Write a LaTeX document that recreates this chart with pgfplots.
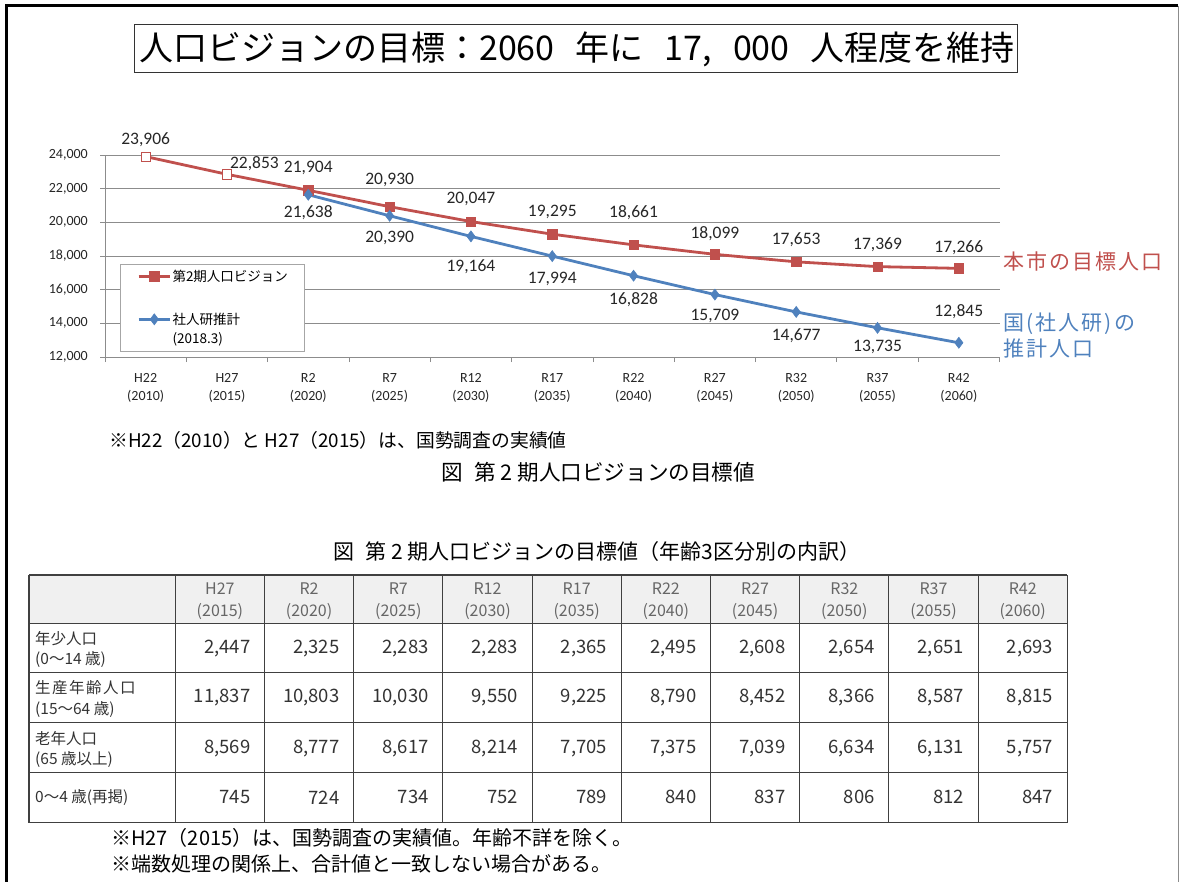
\documentclass[border=0pt]{standalone}
\usepackage{fontspec}
\usepackage{pgfplots}
\usepackage{pgfplotstable}
\pgfplotsset{compat=1.18}
\setmainfont{Carlito}
\newfontfamily\jp{Noto Sans CJK JP}
\newfontfamily\jpls[LetterSpace=10]{Noto Sans CJK JP}
\definecolor{cred}{HTML}{C0504D}
\definecolor{cblue}{HTML}{4F81BD}
\definecolor{gridc}{HTML}{8C8C8C}
\pgfplotstableread{
x y up dx
0 23906 16.6 0
1 22853 11 27.5
2 21904 22 0
3 20930 26.7 0
4 20047 22.2 0
5 19295 21.9 0
6 18661 32.6 0
7 18099 21 0
8 17653 21.8 0
9 17369 21.6 0
10 17266 21.1 0
}\redtab
\pgfplotstableread{
x y up dx
2 21638 -17.5 0
3 20390 -22.5 0
4 19164 -30.3 0
5 17994 -22.9 0
6 16828 -23.6 0
7 15709 -21.1 0
8 14677 -23.8 0
9 13735 -18.9 0
10 12845 31.1 0
}\bluetab
\pgfplotstableread{
x y
0 23906
1 22853
}\opentab
\begin{document}
\begin{tikzpicture}
\useasboundingbox (0,0) rectangle (1181pt,-882pt);
\begin{axis}[
  at={(105pt,-357pt)}, anchor=south west,
  scale only axis, width=894.5pt, height=202pt,
  xmin=-0.5, xmax=10.5, ymin=12000, ymax=24000,
  clip=false,
  axis lines*=left,
  axis line style={gridc, line width=0.8pt},
  ytick={12000,14000,...,24000},
  ymajorgrids, major grid style={gridc, line width=0.8pt},
  scaled y ticks=false,
  /pgf/number format/assume math mode=true,
  /pgf/number format/1000 sep={,},
  tick align=outside, major tick length=5pt,
  tick style={gridc, line width=0.8pt},
  xtick={-0.5,0.5,...,10.5}, xticklabels={},
  extra x ticks={0,1,...,10},
  extra x tick labels={H22\\(2010),H27\\(2015),R2\\(2020),R7\\(2025),R12\\(2030),R17\\(2035),R22\\(2040),R27\\(2045),R32\\(2050),R37\\(2055),R42\\(2060)},
  extra x tick style={major tick length=0pt},
  x tick label style={align=center, font=\fontsize{14}{18.3}\selectfont, text=black!85, inner sep=0pt, yshift=-16pt},
  y tick label style={font=\fontsize{14}{16}\selectfont, text=black!85, inner sep=0pt, xshift=-12pt},
  legend cell align=left,
  legend style={at={(rel axis cs:0.01677,0.4589)}, anchor=north west,
    draw=black!35, line width=0.8pt, fill=white,
    inner xsep=16.7pt, inner ysep=7pt, row sep=14pt, column sep=1pt,
    cells={anchor=base west}, nodes={inner sep=0pt},
    font=\jp\fontsize{13.5}{16}\selectfont},
  legend image code/.code={\draw[mark repeat=2,mark phase=2,#1] plot coordinates {(0pt,0pt) (15.8pt,0pt) (31.6pt,0pt)};},
]
\addplot[cred, line width=2.8pt, mark=square*, mark size=4.6pt,
  mark options={solid, line width=0.6pt, fill=cred, draw=cred},
  legend image code/.code={\draw[cred, line width=2.8pt, mark=square*, mark size=4.6pt, mark options={solid, line width=0.6pt, fill=cred, draw=cred}, mark repeat=2,mark phase=2] plot coordinates {(0pt,0pt) (15.8pt,0pt) (31.6pt,0pt)}; \path[draw=none,fill=none] (0pt,0pt) -- (0pt,-23.5pt);},
  nodes near coords,
  visualization depends on={\thisrow{up} \as \up},
  visualization depends on={\thisrow{dx} \as \dx},
  every node near coord/.append style={anchor=center, yshift=\up*1pt, xshift=\dx*1pt,
    font=\fontsize{17.5}{20}\selectfont, text=black!85, inner sep=0pt}]
  table[x=x,y=y] {\redtab};
\addlegendentry{\raisebox{-5pt}[0pt][0pt]{第2期人口ビジョン}}
\addplot[cblue, line width=2.8pt, mark=diamond*, mark size=5.5pt,
  mark options={solid, line width=0.6pt, fill=cblue, draw=cblue},
  nodes near coords,
  visualization depends on={\thisrow{up} \as \up},
  visualization depends on={\thisrow{dx} \as \dx},
  every node near coord/.append style={anchor=center, yshift=\up*1pt, xshift=\dx*1pt,
    font=\fontsize{17.5}{20}\selectfont, text=black!85, inner sep=0pt}]
  table[x=x,y=y] {\bluetab};
\addlegendentry{\raisebox{-5pt}[0pt][0pt]{社人研推計}}
\addlegendimage{legend image code/.code={\path[draw=none,fill=none] (0pt,0pt) -- (0pt,-6pt);}}
\addlegendentry{\raisebox{-5pt}[0pt][0pt]{(2018.3)}}
\addplot[only marks, mark=square*, mark size=4.6pt,
  mark options={fill=white, draw=cred, line width=0.8pt}, forget plot]
  table[x=x,y=y] {\opentab};
\end{axis}
\begin{scope}[x=1pt,y=-1pt]
% page frame
\draw[black, line width=3pt] (6,882) -- (6,6) -- (1178,6);
\draw[black!45, line width=1pt] (1178,6) -- (1178,882);
% title
\draw[black!80, line width=1pt] (134,24.5) rectangle (1017,72.7);
\node[font=\jp\fontsize{34}{38}\selectfont, inner sep=0pt] at (577,49) {人口ビジョンの目標：2060\hspace{0.62em}年に\hspace{0.62em}17,\hspace{0.62em}000\hspace{0.62em}人程度を維持};
% right labels
\node[anchor=west, text=cred, font=\jpls\fontsize{21}{24}\selectfont, inner sep=0pt] at (1003,262) {本市の目標人口};
\node[anchor=west, text=cblue, font=\jpls\fontsize{21}{24}\selectfont, inner sep=0pt] at (1003,324) {国(社人研)の};
\node[anchor=west, text=cblue, font=\jpls\fontsize{21}{24}\selectfont, inner sep=0pt] at (1003,348.5) {推計人口};
% notes and captions
\node[anchor=west, font=\jp\fontsize{18.8}{22}\selectfont, inner sep=0pt] at (109,440) {※H22（2010）と H27（2015）は、国勢調査の実績値};
\node[font=\jp\fontsize{21.6}{24}\selectfont, inner sep=0pt] at (598.5,472) {図\hspace{0.5em}第 2 期人口ビジョンの目標値};
\node[font=\jp\fontsize{21}{24}\selectfont, inner sep=0pt] at (597,552) {図\hspace{0.5em}第 2 期人口ビジョンの目標値（年齢3区分別の内訳）};
% table
\fill[black!6] (29,575) rectangle (1067.3,623.3);
\foreach \yy in {575,623.3,672.7,722.7,772.3,822.7}
  \draw[black!75, line width=1.1pt] (29,\yy) -- (1067.3,\yy);
\draw[black!75, line width=1.1pt] (29,575) -- (29,822.7);
\foreach \i in {0,...,10}
  \draw[black!75, line width=1.1pt] ({175.3+89.2*\i},575) -- ({175.3+89.2*\i},822.7);
\foreach \h/\yr [count=\i] in {H27/2015,R2/2020,R7/2025,R12/2030,R17/2035,R22/2040,R27/2045,R32/2050,R37/2055,R42/2060} {
  \node[font=\jp\fontsize{16}{18}\selectfont, text=black!60, inner sep=0pt] at ({175.3+89.2*(\i-0.5)},588.3) {\h};
  \node[font=\jp\fontsize{16}{18}\selectfont, text=black!60, inner sep=0pt] at ({175.3+89.2*(\i-0.5)},611.7) {(\yr)};
}
\foreach \a/\b/\c/\d [count=\i] in {2{,}447/11{,}837/8{,}569/745, 2{,}325/10{,}803/8{,}777/724, 2{,}283/10{,}030/8{,}617/734, 2{,}283/9{,}550/8{,}214/752, 2{,}365/9{,}225/7{,}705/789, 2{,}495/8{,}790/7{,}375/840, 2{,}608/8{,}452/7{,}039/837, 2{,}654/8{,}366/6{,}634/806, 2{,}651/8{,}587/6{,}131/812, 2{,}693/8{,}815/5{,}757/847} {
  \node[anchor=east, font=\jp\fontsize{18.5}{20}\selectfont, text=black!80, inner sep=0pt] at ({175.3+89.2*\i-14},648.3) {\a};
  \node[anchor=east, font=\jp\fontsize{18.5}{20}\selectfont, text=black!80, inner sep=0pt] at ({175.3+89.2*\i-14},697.3) {\b};
  \node[anchor=east, font=\jp\fontsize{18.5}{20}\selectfont, text=black!80, inner sep=0pt] at ({175.3+89.2*\i-14},748.3) {\c};
  \node[anchor=east, font=\jp\fontsize{18.5}{20}\selectfont, text=black!80, inner sep=0pt] at ({175.3+89.2*\i-14},797.3) {\d};
}
\begin{scope}[every node/.style={anchor=west, font=\jp\fontsize{15.5}{18}\selectfont, text=black!80, inner sep=0pt}]
\node at (35,638.3) {年少人口};
\node at (35,660) {(0～14 歳)};
\node at (35,687.7) {生\kern1.5pt 産\kern1.5pt 年\kern1.5pt 齢\kern1.5pt 人\kern1.5pt 口};
\node at (35,710) {(15～64 歳)};
\node at (35,738.3) {老年人口};
\node at (35,759.3) {(65 歳以上)};
\node at (35,797.3) {0～4 歳(再掲)};
\end{scope}
% footnotes
\node[anchor=west, font=\jp\fontsize{20}{22}\selectfont, inner sep=0pt] at (111,838) {※H27（2015）は、国勢調査の実績値。年齢不詳を除く。};
\node[anchor=west, font=\jp\fontsize{20}{22}\selectfont, inner sep=0pt] at (111,864) {※端数処理の関係上、合計値と一致しない場合がある。};
\end{scope}
\end{tikzpicture}
\end{document}
